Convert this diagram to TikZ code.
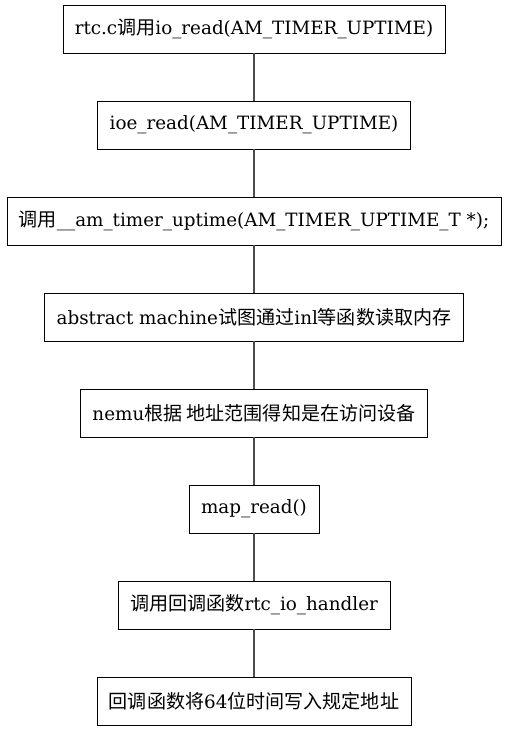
\documentclass[tikz,border=0pt]{standalone}
\usepackage{fontspec}
\setmainfont{DejaVu Serif}
\newfontfamily\cjk[Scale=1.04]{Noto Sans CJK SC}
\usepackage{tikz}
\usetikzlibrary{positioning}

\tikzset{
  stepbox/.style = {draw=black, rectangle, minimum height=36pt, inner xsep=9pt, font=\fontsize{13.75}{15}\selectfont},
  link/.style = {draw=black!70, line width=0.8pt}
}

\begin{document}
\begin{tikzpicture}[x = 0.75pt, y = 0.75pt]
\useasboundingbox (0, 0) rectangle (508, 731);

%draw the boxes
\node[stepbox] (ioread) at (254, 702) {rtc.c{\cjk 调用}io\_read(AM\_TIMER\_UPTIME)};
\node[stepbox] (ioeread) at (254, 606) {ioe\_read(AM\_TIMER\_UPTIME)};
\node[stepbox] (uptime) at (254, 510) {{\cjk 调用}\_\_am\_timer\_uptime(AM\_TIMER\_UPTIME\_T *);};
\node[stepbox] (inl) at (254, 414) {abstract machine{\cjk 试图通过}inl{\cjk 等函数读取内存}};
\node[stepbox] (nemu) at (254, 318) {nemu{\cjk 根据 地址范围得知是在访问设备}};
\node[stepbox] (mapread) at (254, 222) {map\_read()};
\node[stepbox] (handler) at (254, 126) {{\cjk 调用回调函数}rtc\_io\_handler};
\node[stepbox] (write) at (254, 30) {{\cjk 回调函数将}64{\cjk 位时间写入规定地址}};

%draw the links
\draw[link] (ioread) to (ioeread);
\draw[link] (ioeread) to (uptime);
\draw[link] (uptime) to (inl);
\draw[link] (inl) to (nemu);
\draw[link] (nemu) to (mapread);
\draw[link] (mapread) to (handler);
\draw[link] (handler) to (write);

\end{tikzpicture}
\end{document}
